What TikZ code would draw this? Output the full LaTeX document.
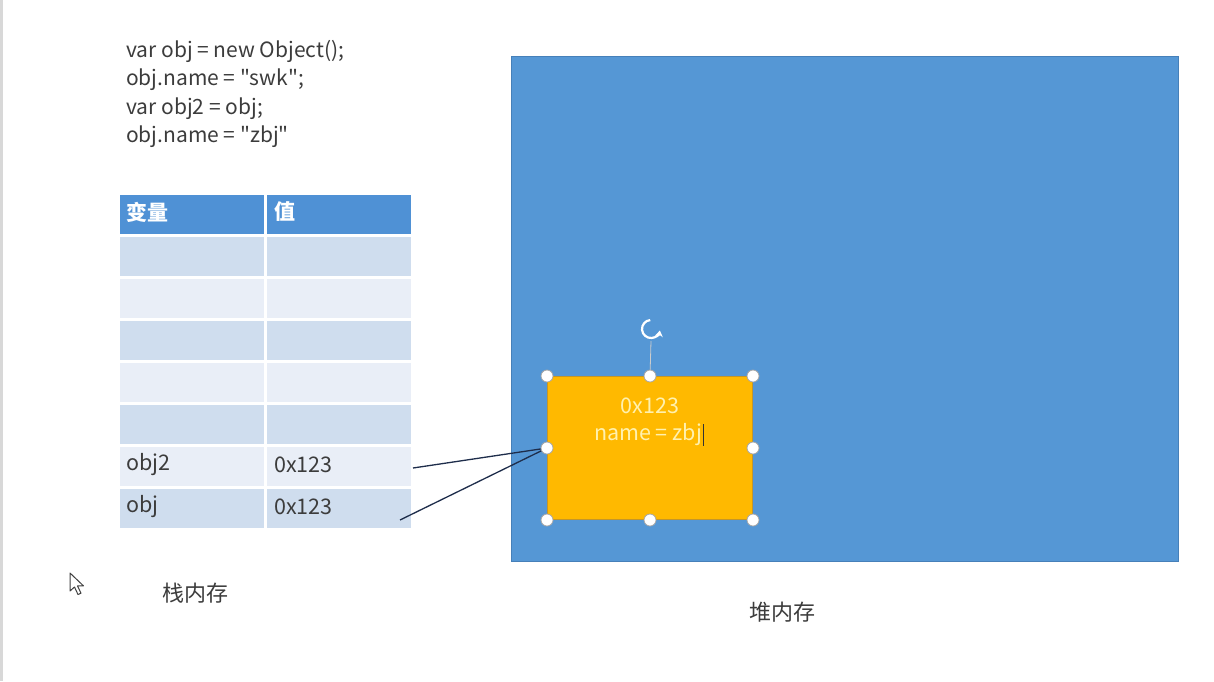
\documentclass[tikz,border=0pt]{standalone}
\usepackage{fontspec}
\setmainfont{Noto Sans CJK SC}[Ligatures=TeXOff]
\usetikzlibrary{arrows.meta}
\definecolor{heapblue}{RGB}{85,151,213}
\definecolor{heapedge}{RGB}{70,128,185}
\definecolor{hdrblue}{RGB}{79,145,213}
\definecolor{rowdark}{RGB}{207,221,238}
\definecolor{rowlight}{RGB}{233,238,247}
\definecolor{objorange}{RGB}{255,185,0}
\definecolor{objedge}{RGB}{196,150,40}
\definecolor{objtext}{RGB}{255,241,175}
\definecolor{txt}{RGB}{60,60,60}
\definecolor{linkcol}{RGB}{30,45,75}
\definecolor{bordergray}{RGB}{216,216,216}
\tikzset{
  codeline/.style={anchor=base west, inner sep=0pt, text=txt, font=\fontsize{21}{26}\selectfont},
  cell/.style={rectangle, anchor=north west, draw=white, line width=2.5pt, minimum width=147pt, minimum height=42pt, inner sep=0pt},
  celltext/.style={anchor=west, inner sep=0pt, text=txt, font=\fontsize{21.5}{26}\selectfont},
  hdrtext/.style={anchor=west, inner sep=0pt, text=white, font=\bfseries\fontsize{21}{26}\selectfont},
  handle/.style={circle, fill=white, draw=gray!70, line width=0.8pt, minimum size=12pt, inner sep=0pt},
  link/.style={draw=linkcol, line width=1.3pt},
  caption/.style={inner sep=0pt, text=txt, font=\fontsize{22}{26}\selectfont},
}
\begin{document}
\begin{tikzpicture}[x=1pt, y=-1pt]
\useasboundingbox[fill=white] (0,0) rectangle (1214,681);
\fill[bordergray] (0,0) rectangle (3,681);
% code
\node[codeline] (c1) at (126,57) {var obj = new Object();};
\node[codeline] (c2) at (126,85) {obj.name = "swk";};
\node[codeline] (c3) at (126,114) {var obj2 = obj;};
\node[codeline] (c4) at (126,142) {obj.name = "zbj"};
% table
\node[cell, fill=hdrblue] (h1) at (117,192) {};
\node[cell, fill=hdrblue] (h2) at (264,192) {};
\node[hdrtext] at (126,212) {变量};
\node[hdrtext] at (274,212) {值};
\foreach \i/\y/\c in {1/234/rowdark,2/276/rowlight,3/318/rowdark,4/360/rowlight,5/402/rowdark,6/444/rowlight,7/486/rowdark}{
  \node[cell, fill=\c] (r\i a) at (117,\y) {};
  \node[cell, fill=\c] (r\i b) at (264,\y) {};
}
\node[celltext] (n2) at (126,465) {obj2};
\node[celltext] (v2) at (274,465) {0x123};
\node[celltext] (n1) at (126,507) {obj};
\node[celltext] (v1) at (274,507) {0x123};
% heap
\node[rectangle, anchor=north west, fill=heapblue, draw=heapedge, line width=1pt, minimum width=667pt, minimum height=505pt, inner sep=0pt] (heap) at (511,56) {};
\node[rectangle, anchor=north west, fill=objorange, draw=objedge, line width=1pt, minimum width=205pt, minimum height=143pt, inner sep=0pt] (obj) at (547,376) {};
\node[inner sep=0pt, text=objtext, font=\fontsize{21.5}{26}\selectfont] (t1) at (650,406) {0x123};
\node[inner sep=0pt, text=objtext, font=\fontsize{21.5}{26}\selectfont] (t2) at (648,435) {name = zbj};
\draw[black!80, line width=1pt] (t2.east) ++(1,-11) -- ++(0,22);
% rotation handle
\coordinate (rc) at (651,329);
\draw[gray!40, line width=0.8pt] (651,341) -- (obj.north);
\draw[white, line width=2.2pt, -{Stealth[length=6pt,width=8pt]}] ([shift={(-95:9)}]rc) arc[start angle=-95, end angle=-350, radius=9];
% connectors
\coordinate (l2) at (413,468);
\coordinate (l1) at (400,520);
\draw[link] (l2) -- (obj.west);
\draw[link] (l1) -- (obj.west);
% handles
\foreach \a in {north west, north, north east, west, east, south west, south, south east}{
  \node[handle] at (obj.\a) {};
}
% captions
\node[caption] (stack) at (195,593) {栈内存};
\node[caption] (heaplbl) at (782,612) {堆内存};
% mouse pointer
\draw[fill=white, draw=black!75, line width=1pt, line join=round] (70,573) -- ++(0,18) -- ++(4.5,-4) -- ++(3.5,7.5) -- ++(3,-1.3) -- ++(-3.5,-7.3) -- ++(6,0) -- cycle;
\end{tikzpicture}
\end{document}
